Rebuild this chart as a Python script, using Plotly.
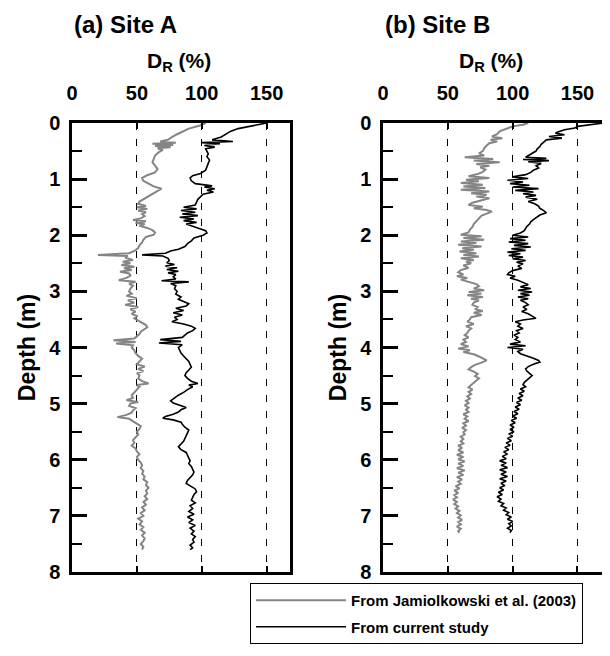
import plotly.graph_objects as go

# ---------------- data ----------------
# Site A, Jamiolkowski et al. (2003)
a_jam_depth = [0.00,0.05,0.10,0.15,0.20,0.25,0.30,0.33,0.35,0.37,0.39,0.41,0.43,0.45,0.48,0.52,0.58,0.64,0.70,0.76,0.82,0.88,0.93,0.98,1.03,1.08,1.13,1.17,1.21,1.25,1.30,1.35,1.40,1.44,1.48,1.50,1.53,1.56,1.59,1.62,1.66,1.70,1.73,1.75,1.78,1.80,1.83,1.87,1.91,1.95,1.99,2.03,2.08,2.13,2.18,2.23,2.28,2.32,2.35,2.37,2.40,2.44,2.47,2.50,2.53,2.56,2.59,2.62,2.65,2.68,2.72,2.76,2.80,2.83,2.86,2.90,2.95,3.00,3.04,3.08,3.12,3.16,3.20,3.24,3.28,3.32,3.36,3.40,3.44,3.48,3.52,3.56,3.60,3.64,3.68,3.72,3.76,3.80,3.84,3.87,3.90,3.93,3.96,4.00,4.05,4.10,4.15,4.20,4.25,4.30,4.34,4.38,4.42,4.46,4.50,4.55,4.60,4.64,4.67,4.70,4.75,4.80,4.85,4.90,4.94,4.97,5.00,5.04,5.08,5.12,5.16,5.20,5.24,5.27,5.30,5.35,5.40,5.45,5.50,5.55,5.60,5.65,5.70,5.75,5.80,5.85,5.90,5.95,6.00,6.05,6.10,6.15,6.20,6.25,6.30,6.35,6.40,6.45,6.50,6.55,6.60,6.65,6.70,6.75,6.80,6.85,6.90,6.95,7.00,7.05,7.10,7.15,7.20,7.25,7.30,7.35,7.40,7.45,7.50,7.55,7.60]
a_jam_dr = [103,98,90,85,81,77,74,68,80,62,78,64,76,66,70,67,64,63,62,64,66,64,58,54,55,59,63,69,66,64,60,56,52,51,57,50,58,51,57,54,56,53,47,57,49,56,52,58,62,64,63,57,55,54,52,51,48,44,20,43,41,47,39,45,38,48,40,46,37,44,45,42,36,49,44,47,45,44,46,42,50,43,48,41,51,45,49,46,50,48,51,55,57,58,55,53,52,50,48,32,49,34,47,46,48,49,51,54,52,50,56,51,55,50,52,51,54,59,50,52,50,48,46,47,42,51,45,44,49,47,46,42,35,44,46,50,53,52,50,51,49,47,48,46,49,50,52,50,51,53,54,53,55,54,56,55,58,57,59,57,58,56,58,55,57,54,56,53,55,51,54,52,55,53,56,54,56,55,53,55,54]

# Site A, current study
a_cur_depth = [0.00,0.05,0.10,0.15,0.20,0.25,0.30,0.33,0.35,0.37,0.40,0.43,0.46,0.50,0.55,0.60,0.66,0.72,0.78,0.84,0.90,0.94,0.98,1.03,1.08,1.12,1.14,1.17,1.20,1.23,1.27,1.31,1.36,1.41,1.46,1.50,1.53,1.56,1.59,1.62,1.65,1.68,1.71,1.74,1.77,1.80,1.84,1.88,1.92,1.96,2.00,2.05,2.10,2.15,2.20,2.25,2.28,2.32,2.35,2.37,2.41,2.45,2.49,2.52,2.55,2.58,2.61,2.64,2.67,2.70,2.74,2.78,2.81,2.83,2.86,2.90,2.95,3.00,3.05,3.10,3.14,3.18,3.22,3.26,3.30,3.34,3.38,3.42,3.46,3.50,3.54,3.58,3.62,3.66,3.70,3.74,3.78,3.82,3.86,3.89,3.92,3.95,4.00,4.05,4.10,4.15,4.20,4.25,4.30,4.35,4.40,4.45,4.50,4.55,4.60,4.64,4.67,4.70,4.75,4.80,4.85,4.90,4.95,4.99,5.03,5.07,5.11,5.15,5.19,5.23,5.26,5.29,5.33,5.37,5.42,5.47,5.52,5.57,5.62,5.67,5.72,5.77,5.82,5.87,5.92,5.97,6.02,6.07,6.12,6.17,6.22,6.27,6.32,6.37,6.42,6.47,6.52,6.57,6.62,6.67,6.72,6.77,6.82,6.87,6.92,6.97,7.02,7.07,7.12,7.17,7.22,7.27,7.32,7.37,7.42,7.47,7.52,7.57,7.60]
a_cur_dr = [150,140,128,122,118,115,108,124,100,114,102,110,103,104,105,104,106,105,104,103,99,93,91,92,95,108,102,110,104,109,101,99,97,96,95,86,96,84,95,85,97,83,94,86,96,88,94,98,103,104,101,94,92,89,87,82,76,72,54,70,74,75,73,79,72,81,73,82,74,80,78,80,69,90,76,80,79,81,80,84,82,86,90,88,80,86,78,85,79,81,77,86,92,95,93,89,87,85,68,84,67,85,82,83,84,86,88,90,91,92,90,88,87,89,92,97,90,93,89,86,82,79,76,78,84,88,84,82,78,72,70,78,84,85,87,90,89,88,87,86,84,82,84,88,89,90,91,90,92,93,94,93,91,89,88,92,95,96,94,93,92,95,91,93,90,94,89,93,90,95,91,94,92,95,93,94,91,93,91]

# Site B, Jamiolkowski et al. (2003)
b_jam_depth = [0.00,0.03,0.06,0.10,0.15,0.20,0.24,0.27,0.30,0.33,0.36,0.40,0.45,0.50,0.54,0.58,0.61,0.64,0.67,0.70,0.73,0.76,0.79,0.83,0.87,0.91,0.95,0.98,1.01,1.04,1.07,1.10,1.13,1.16,1.19,1.22,1.25,1.28,1.31,1.34,1.38,1.42,1.46,1.49,1.52,1.55,1.58,1.61,1.65,1.70,1.75,1.80,1.85,1.90,1.95,1.99,2.02,2.05,2.08,2.11,2.14,2.17,2.20,2.23,2.26,2.29,2.32,2.35,2.38,2.41,2.44,2.47,2.50,2.54,2.58,2.62,2.66,2.70,2.73,2.76,2.79,2.83,2.87,2.91,2.95,2.98,3.01,3.04,3.07,3.10,3.13,3.16,3.20,3.24,3.28,3.32,3.35,3.38,3.42,3.46,3.50,3.54,3.58,3.62,3.66,3.70,3.74,3.78,3.82,3.86,3.90,3.94,3.98,4.02,4.05,4.08,4.12,4.16,4.20,4.23,4.27,4.31,4.35,4.39,4.43,4.47,4.51,4.55,4.59,4.63,4.67,4.71,4.75,4.79,4.83,4.87,4.91,4.95,4.99,5.03,5.07,5.11,5.15,5.19,5.23,5.27,5.31,5.35,5.39,5.43,5.47,5.51,5.55,5.59,5.63,5.67,5.71,5.75,5.79,5.83,5.87,5.91,5.95,5.99,6.03,6.07,6.11,6.15,6.19,6.23,6.27,6.31,6.35,6.39,6.43,6.47,6.51,6.55,6.59,6.63,6.67,6.71,6.75,6.79,6.83,6.87,6.91,6.95,6.99,7.03,7.07,7.11,7.15,7.19,7.23,7.27,7.30]
b_jam_dr = [112,108,100,95,90,88,84,92,83,88,82,80,78,77,74,78,63,85,70,90,72,82,75,79,77,73,66,82,64,74,60,77,62,79,60,82,68,80,72,82,76,69,66,77,70,80,84,80,76,74,72,70,69,67,66,60,76,62,78,60,72,58,76,61,70,59,72,62,74,60,70,64,68,62,66,60,58,62,57,65,60,67,72,74,70,78,66,76,65,77,68,74,70,69,73,71,77,70,76,68,67,65,70,64,68,66,65,63,66,62,64,60,66,58,67,62,70,74,78,80,76,71,68,66,70,73,71,74,72,70,68,66,69,66,68,65,67,64,66,63,66,64,66,62,65,63,66,62,64,61,64,62,63,60,62,60,62,58,61,58,62,57,62,58,63,58,62,57,63,58,62,57,61,58,60,56,59,55,58,55,57,54,57,55,58,56,59,57,60,58,61,58,60,57,60,58,59]

# Site B, current study
b_cur_depth = [0.00,0.03,0.06,0.09,0.12,0.15,0.18,0.21,0.24,0.27,0.30,0.34,0.38,0.42,0.46,0.50,0.54,0.58,0.61,0.63,0.65,0.67,0.69,0.72,0.76,0.80,0.84,0.88,0.92,0.96,0.99,1.02,1.05,1.08,1.11,1.14,1.17,1.20,1.23,1.26,1.29,1.32,1.36,1.40,1.44,1.48,1.52,1.56,1.60,1.64,1.68,1.72,1.76,1.80,1.84,1.88,1.92,1.96,2.00,2.03,2.06,2.09,2.12,2.15,2.18,2.21,2.24,2.27,2.30,2.33,2.36,2.39,2.42,2.45,2.48,2.51,2.55,2.59,2.63,2.67,2.70,2.73,2.76,2.80,2.84,2.88,2.92,2.95,2.98,3.01,3.04,3.07,3.10,3.13,3.16,3.20,3.24,3.28,3.32,3.36,3.40,3.44,3.48,3.51,3.54,3.58,3.62,3.66,3.70,3.74,3.78,3.82,3.86,3.90,3.94,3.97,4.00,4.03,4.07,4.11,4.15,4.19,4.23,4.26,4.30,4.34,4.38,4.42,4.46,4.50,4.54,4.58,4.62,4.66,4.70,4.74,4.78,4.82,4.86,4.90,4.94,4.98,5.02,5.06,5.10,5.14,5.18,5.22,5.26,5.30,5.34,5.38,5.42,5.46,5.50,5.54,5.58,5.62,5.66,5.70,5.74,5.78,5.82,5.86,5.90,5.94,5.98,6.02,6.06,6.10,6.14,6.18,6.22,6.26,6.30,6.34,6.38,6.42,6.46,6.50,6.54,6.58,6.62,6.66,6.70,6.74,6.78,6.82,6.86,6.90,6.94,6.98,7.02,7.06,7.10,7.14,7.18,7.22,7.26,7.30]
b_cur_dr = [170,160,150,148,140,136,133,140,128,138,126,124,122,121,119,118,115,113,110,126,108,128,112,122,118,120,116,114,110,100,112,96,108,98,113,100,120,102,116,108,118,110,119,112,117,120,121,124,126,121,118,116,114,113,111,110,109,106,100,112,98,110,97,112,101,114,99,110,96,106,97,108,100,110,103,108,104,107,100,97,96,102,98,104,108,112,106,114,104,115,106,113,104,112,106,110,112,108,111,107,112,115,118,108,102,106,104,108,103,105,101,104,102,106,98,110,96,108,104,106,112,116,120,121,116,112,110,111,113,115,113,111,109,108,110,106,109,105,108,104,107,103,106,102,105,101,104,100,103,99,102,98,101,98,101,97,100,96,99,95,98,94,97,93,96,92,95,90,95,91,96,90,95,91,96,90,95,91,94,90,93,89,92,88,91,89,93,91,95,93,97,95,99,96,100,97,99,96,99,98]

x_ticks = [0, 50, 100, 150]
y_ticks = [0, 1, 2, 3, 4, 5, 6, 7, 8]
panel_titles = ["(a) Site A", "(b) Site B"]
series_names = ["From Jamiolkowski et al. (2003)", "From current study"]

# ---------------- figure ----------------
# the page body has an 8 px margin, so the figure is 8 px smaller and
# window pixel positions are converted with that offset
OFF = 8
W, H = 610 - OFF, 656 - OFF
FONT = "Liberation Sans, Arial, sans-serif"
GRAY = "#858585"


def px(x):
    return (x - OFF) / W


def py(y):
    return 1 - (y - OFF) / H


fig = go.Figure()
fig.add_trace(go.Scatter(x=a_jam_dr, y=a_jam_depth, mode="lines", name=series_names[0],
                         line=dict(color=GRAY, width=2), xaxis="x", yaxis="y",
                         legendgroup="jam", showlegend=True))
fig.add_trace(go.Scatter(x=a_cur_dr, y=a_cur_depth, mode="lines", name=series_names[1],
                         line=dict(color="black", width=1.6), xaxis="x", yaxis="y",
                         legendgroup="cur", showlegend=True))
fig.add_trace(go.Scatter(x=b_jam_dr, y=b_jam_depth, mode="lines", name=series_names[0],
                         line=dict(color=GRAY, width=2), xaxis="x2", yaxis="y2",
                         legendgroup="jam", showlegend=False))
fig.add_trace(go.Scatter(x=b_cur_dr, y=b_cur_depth, mode="lines", name=series_names[1],
                         line=dict(color="black", width=1.6), xaxis="x2", yaxis="y2",
                         legendgroup="cur", showlegend=False))

ydom = [py(572), py(123)]


def xaxis_cfg(dom, rng, anchor):
    return dict(domain=dom, range=rng, anchor=anchor, side="top", automargin=False,
                tickmode="array", tickvals=x_ticks, ticktext=[str(v) for v in x_ticks],
                ticks="inside", ticklen=6, tickwidth=1.5, tickcolor="black",
                showline=True, linewidth=2.5, linecolor="black", mirror="ticks",
                showgrid=True, gridcolor="black", gridwidth=1, griddash="7px,9px",
                zeroline=False, ticklabelstandoff=12,
                tickfont=dict(family=FONT, size=20, color="black", weight="bold"))


def yaxis_cfg(anchor, standoff):
    return dict(domain=ydom, range=[8, 0], anchor=anchor, automargin=False,
                tickmode="array", tickvals=y_ticks, ticktext=[str(v) for v in y_ticks],
                ticks="inside", ticklen=15, tickwidth=2.5, tickcolor="black",
                minor=dict(dtick=0.5, tick0=0, ticks="inside", ticklen=10, tickwidth=2, tickcolor="black"),
                showline=True, linewidth=2.5, linecolor="black", mirror=True,
                showgrid=False, zeroline=False, ticklabelstandoff=5,
                tickfont=dict(family=FONT, size=20, color="black", weight="bold"),
                title=dict(text="Depth (m)", standoff=standoff,
                           font=dict(family=FONT, size=23, color="black", weight="bold")))


fig.update_layout(
    width=W, height=H,
    margin=dict(l=0, r=0, t=0, b=0, autoexpand=False),
    paper_bgcolor="white", plot_bgcolor="white",
    xaxis=xaxis_cfg([px(72), px(290)], [0, 168], "y"),
    xaxis2=xaxis_cfg([px(383), px(606)], [0, 172], "y2"),
    yaxis=yaxis_cfg("x", 8),
    yaxis2=yaxis_cfg("x2", 8),
    showlegend=True,
    legend=dict(x=px(250), y=py(583), xanchor="left", yanchor="top",
                bordercolor="black", borderwidth=1, bgcolor="white",
                itemwidth=90, tracegroupgap=4,
                font=dict(family=FONT, size=15, color="black", weight="bold")),
    annotations=[
        dict(text=panel_titles[0], x=px(72), y=py(24), xref="paper", yref="paper",
             xanchor="left", yanchor="middle", showarrow=False,
             font=dict(family=FONT, size=24, color="black", weight="bold")),
        dict(text=panel_titles[1], x=px(383), y=py(24), xref="paper", yref="paper",
             xanchor="left", yanchor="middle", showarrow=False,
             font=dict(family=FONT, size=24, color="black", weight="bold")),
        dict(text="D<sub>R</sub> (%)", x=px(179), y=py(62), xref="paper", yref="paper",
             xanchor="center", yanchor="middle", showarrow=False,
             font=dict(family=FONT, size=21, color="black", weight="bold")),
        dict(text="D<sub>R</sub> (%)", x=px(491), y=py(62), xref="paper", yref="paper",
             xanchor="center", yanchor="middle", showarrow=False,
             font=dict(family=FONT, size=21, color="black", weight="bold")),
    ],
)

fig.write_html("out.html")
